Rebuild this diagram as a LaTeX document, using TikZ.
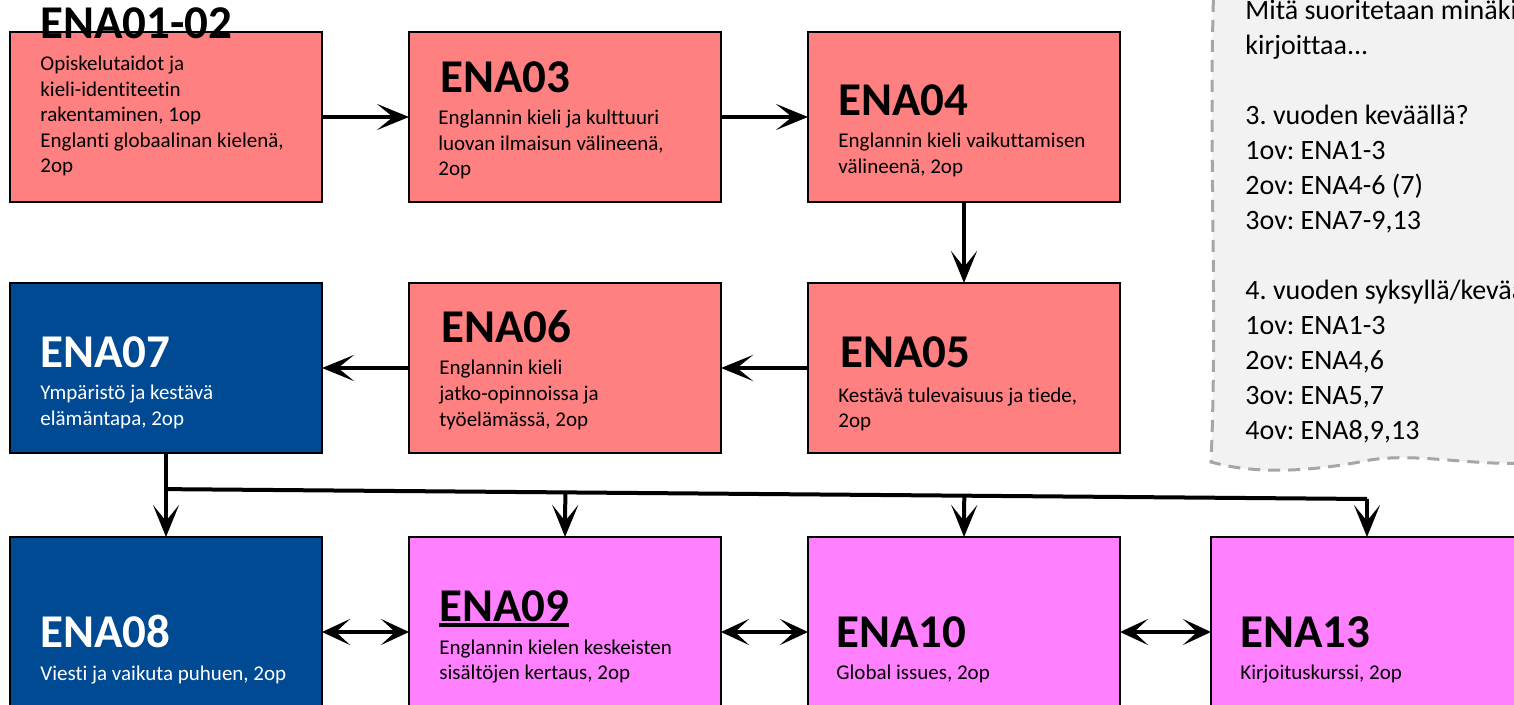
\documentclass[tikz,border=0pt]{standalone}
\usepackage{fontspec}
\setmainfont{Carlito}[Ligatures=NoCommon]
\frenchspacing
\usepackage{tikz}
\usetikzlibrary{positioning,calc,arrows.meta}
\definecolor{salmonRed}{HTML}{FF8080}
\definecolor{deepBlue}{HTML}{004A94}
\definecolor{pinkMagenta}{HTML}{FF80FF}
\definecolor{noteGray}{HTML}{F2F2F2}
\definecolor{dashGray}{HTML}{A6A6A6}
\tikzstyle{course}     =[rectangle, draw=black, line width=1.2pt, minimum width=156pt, minimum height=85pt, inner sep=0pt, outer sep=0pt]
\tikzstyle{courseRed}  =[course, fill=salmonRed]
\tikzstyle{courseBlue} =[course, fill=deepBlue]
\tikzstyle{coursePink} =[course, fill=pinkMagenta, minimum height=95pt]
\tikzstyle{courseTitle}=[anchor=base west, inner sep=0pt, font=\bfseries\fontsize{23.5}{28}\selectfont]
\tikzstyle{courseText} =[anchor=base west, inner sep=0pt, font=\fontsize{10.5}{12.75}\selectfont]
\tikzset{
    flow/.style={line width=2pt, -{Stealth[length=16pt,width=13pt,inset=8pt]}},
    swap/.style={line width=2pt, {Stealth[length=14pt,width=13pt,inset=7pt]}-{Stealth[length=14pt,width=13pt,inset=7pt]}},
    note/.style={draw=dashGray, fill=noteGray, line width=1.5pt, dash pattern=on 6pt off 4pt}
}
\newcommand{\ulthick}[1]{\setbox0\hbox{#1}\rlap{\rule[-3pt]{\wd0}{1.8pt}}\box0}
\newcommand{\leftlines}[1]{\begin{tabular}[t]{@{}l@{}}#1\end{tabular}}

\begin{document}
\begin{tikzpicture}[x=0.5pt, y=-0.5pt]
      \useasboundingbox (0,0) rectangle (1514,705);
      \clip (0,0) rectangle (1514,705);
      % note on the right
      \draw[note] (1214,-20) .. controls (1208,150) and (1218,300) .. (1211,462)
            .. controls (1260,476) and (1320,470) .. (1370,460)
            .. controls (1420,452) and (1480,468) .. (1540,462) -- (1540,-20) -- cycle;
      \node[courseText, font=\fontsize{14}{17.5}\selectfont] (note) at (1245,20)
            {\leftlines{Mitä suoritetaan minäkin\\kirjoittaa...\\ \\3. vuoden keväällä?\\1ov: ENA1-3\\2ov: ENA4-6 (7)\\3ov: ENA7-9,13\\ \\4. vuoden syksyllä/keväällä?\\1ov: ENA1-3\\2ov: ENA4,6\\3ov: ENA5,7\\4ov: ENA8,9,13}};
      % courses
      \node[courseRed, anchor=north west] (ena0102) at (10,32) {};
      \node[courseRed] (ena03) [right = 43.5pt of ena0102] {};
      \node[courseRed] (ena04) [right = 43.5pt of ena03] {};
      \node[courseRed] (ena05) [below = 40.5pt of ena04] {};
      \node[courseRed] (ena06) [left = 43.5pt of ena05] {};
      \node[courseBlue] (ena07) [left = 43.5pt of ena06] {};
      \node[courseBlue, minimum height=95pt] (ena08) [below = 42pt of ena07] {};
      \node[coursePink] (ena09) [right = 43.5pt of ena08] {};
      \node[coursePink] (ena10) [right = 43.5pt of ena09] {};
      \node[coursePink] (ena13) [right = 45.5pt of ena10] {};
      % texts
      \node[courseTitle] (t0102) at ($(ena0102.north west)+(30,7)$) {ENA01-02};
      \node[courseText] (s0102) at ($(ena0102.north west)+(30,39)$) {\leftlines{Opiskelutaidot ja\\kieli-identiteetin\\rakentaminen, 1op\\Englanti globaalinan kielenä,\\2op}};
      \node[courseTitle] (t03) at ($(ena03.north west)+(31,61)$) {ENA03};
      \node[courseText] (s03) at ($(ena03.north west)+(29,93)$) {\leftlines{Englannin kieli ja kulttuuri\\luovan ilmaisun välineenä,\\2op}};
      \node[courseTitle] (t04) at ($(ena04.north west)+(30,84)$) {ENA04};
      \node[courseText] (s04) at ($(ena04.north west)+(30,116)$) {\leftlines{Englannin kieli vaikuttamisen\\välineenä, 2op}};
      \node[courseTitle] (t05) at ($(ena05.north west)+(32,85)$) {ENA05};
      \node[courseText] (s05) at ($(ena05.north west)+(30,119)$) {\leftlines{Kestävä tulevaisuus ja tiede,\\2op}};
      \node[courseTitle] (t06) at ($(ena06.north west)+(32,60)$) {ENA06};
      \node[courseText] (s06) at ($(ena06.north west)+(30,92)$) {\leftlines{Englannin kieli\\jatko-opinnoissa ja\\työelämässä, 2op}};
      \node[courseTitle, text=white] (t07) at ($(ena07.north west)+(30,84)$) {ENA07};
      \node[courseText, text=white] (s07) at ($(ena07.north west)+(30,117)$) {\leftlines{Ympäristö ja kestävä\\elämäntapa, 2op}};
      \node[courseTitle, text=white] (t08) at ($(ena08.north west)+(30,110)$) {ENA08};
      \node[courseText, text=white] (s08) at ($(ena08.north west)+(30,143)$) {Viesti ja vaikuta puhuen, 2op};
      \node[courseTitle] (t09) at ($(ena09.north west)+(30,84)$) {\ulthick{ENA09}};
      \node[courseText] (s09) at ($(ena09.north west)+(30,117)$) {\leftlines{Englannin kielen keskeisten\\sisältöjen kertaus, 2op}};
      \node[courseTitle] (t10) at ($(ena10.north west)+(28,110)$) {ENA10};
      \node[courseText] (s10) at ($(ena10.north west)+(28,142)$) {Global issues, 2op};
      \node[courseTitle] (t13) at ($(ena13.north west)+(29,110)$) {ENA13};
      \node[courseText] (s13) at ($(ena13.north west)+(29,142)$) {Kirjoituskurssi, 2op};
      % arrows
      \draw[flow] (ena0102) -- (ena03);
      \draw[flow] (ena03) -- (ena04);
      \draw[flow] (ena04) -- (ena05);
      \draw[flow] (ena05) -- (ena06);
      \draw[flow] (ena06) -- (ena07);
      \draw[flow] (ena07) -- (ena08);
      \coordinate (bus0) at ($(ena07.south)!0.43!(ena08.north)$);
      \coordinate (bus3) at ($(ena13.north)+(0,-38)$);
      \draw[line width=2pt] (bus0) -- (bus3);
      \draw[flow] ($(bus0)!(ena09.north)!(bus3)$) -- (ena09.north);
      \draw[flow] ($(bus0)!(ena10.north)!(bus3)$) -- (ena10.north);
      \draw[flow] (bus3) -- (ena13.north);
      \draw[swap] (ena08) -- (ena09);
      \draw[swap] (ena09) -- (ena10);
      \draw[swap] (ena10) -- (ena13);
\end{tikzpicture}
\end{document}
